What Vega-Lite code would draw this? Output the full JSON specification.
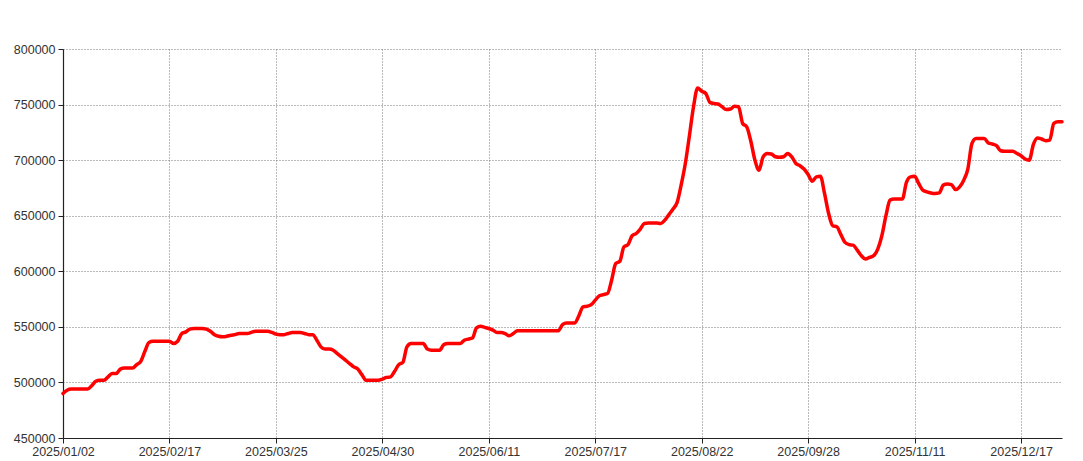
{
"$schema": "https://vega.github.io/schema/vega-lite/v6.json",
"width": 999,
"height": 389,
"autosize": {"type": "none"},
"padding": {"left": 63, "top": 49, "right": 21, "bottom": 23},
"background": "white",
"config": {"view": {"stroke": null}, "font": "Liberation Sans"},
"data": {"values": [
{"d":"2025/01/02","p":490000},{"d":"2025/01/03","p":493000},{"d":"2025/01/06","p":494000},{"d":"2025/01/07","p":494000},{"d":"2025/01/08","p":494000},{"d":"2025/01/09","p":494000},{"d":"2025/01/10","p":494000},{"d":"2025/01/13","p":497000},{"d":"2025/01/14","p":501000},{"d":"2025/01/15","p":502000},{"d":"2025/01/16","p":502000},{"d":"2025/01/17","p":505000},{"d":"2025/01/20","p":508000},{"d":"2025/01/21","p":508000},{"d":"2025/01/22","p":512000},{"d":"2025/01/23","p":513000},{"d":"2025/01/24","p":513000},{"d":"2025/01/27","p":513000},
{"d":"2025/02/05","p":516000},{"d":"2025/02/06","p":519000},{"d":"2025/02/07","p":528000},{"d":"2025/02/10","p":536000},{"d":"2025/02/11","p":537000},{"d":"2025/02/12","p":537000},{"d":"2025/02/13","p":537000},{"d":"2025/02/14","p":537000},{"d":"2025/02/17","p":537000},{"d":"2025/02/18","p":535000},{"d":"2025/02/19","p":537000},{"d":"2025/02/20","p":544000},{"d":"2025/02/21","p":545500},{"d":"2025/02/24","p":548000},{"d":"2025/02/25","p":548500},{"d":"2025/02/26","p":548500},{"d":"2025/02/27","p":548500},{"d":"2025/02/28","p":548000},
{"d":"2025/03/03","p":546000},{"d":"2025/03/04","p":543000},{"d":"2025/03/05","p":541500},{"d":"2025/03/06","p":541000},{"d":"2025/03/07","p":541500},{"d":"2025/03/10","p":542500},{"d":"2025/03/11","p":543000},{"d":"2025/03/12","p":544000},{"d":"2025/03/13","p":544000},{"d":"2025/03/14","p":544000},{"d":"2025/03/17","p":545000},{"d":"2025/03/18","p":546000},{"d":"2025/03/19","p":546000},{"d":"2025/03/20","p":546000},{"d":"2025/03/21","p":546000},{"d":"2025/03/24","p":545000},{"d":"2025/03/25","p":543500},{"d":"2025/03/26","p":543000},{"d":"2025/03/27","p":543000},{"d":"2025/03/28","p":544000},{"d":"2025/03/31","p":545000},
{"d":"2025/04/01","p":545000},{"d":"2025/04/02","p":545000},{"d":"2025/04/03","p":544000},{"d":"2025/04/07","p":543000},{"d":"2025/04/08","p":543000},{"d":"2025/04/09","p":538000},{"d":"2025/04/10","p":532000},{"d":"2025/04/11","p":530000},{"d":"2025/04/14","p":530000},{"d":"2025/04/15","p":529000},{"d":"2025/04/16","p":526000},{"d":"2025/04/17","p":523000},{"d":"2025/04/18","p":520000},{"d":"2025/04/21","p":517000},{"d":"2025/04/22","p":514000},{"d":"2025/04/23","p":512000},{"d":"2025/04/24","p":507000},{"d":"2025/04/25","p":502000},{"d":"2025/04/27","p":502000},{"d":"2025/04/28","p":502000},{"d":"2025/04/29","p":502000},{"d":"2025/04/30","p":503000},
{"d":"2025/05/06","p":504500},{"d":"2025/05/07","p":505000},{"d":"2025/05/08","p":510000},{"d":"2025/05/09","p":516000},{"d":"2025/05/12","p":518000},{"d":"2025/05/13","p":532000},{"d":"2025/05/14","p":535000},{"d":"2025/05/15","p":535000},{"d":"2025/05/16","p":535000},{"d":"2025/05/19","p":535000},{"d":"2025/05/20","p":530000},{"d":"2025/05/21","p":529000},{"d":"2025/05/22","p":529000},{"d":"2025/05/23","p":529000},{"d":"2025/05/26","p":534000},{"d":"2025/05/27","p":535000},{"d":"2025/05/28","p":535000},{"d":"2025/05/29","p":535000},{"d":"2025/05/30","p":535000},
{"d":"2025/06/03","p":538000},{"d":"2025/06/04","p":539000},{"d":"2025/06/05","p":540000},{"d":"2025/06/06","p":549000},{"d":"2025/06/09","p":550500},{"d":"2025/06/10","p":549500},{"d":"2025/06/11","p":548500},{"d":"2025/06/12","p":547000},{"d":"2025/06/13","p":545000},{"d":"2025/06/16","p":545000},{"d":"2025/06/17","p":544000},{"d":"2025/06/18","p":542000},{"d":"2025/06/19","p":544000},{"d":"2025/06/20","p":546500},{"d":"2025/06/23","p":546500},{"d":"2025/06/24","p":546500},{"d":"2025/06/25","p":546500},{"d":"2025/06/26","p":546500},{"d":"2025/06/27","p":546500},{"d":"2025/06/30","p":546500},
{"d":"2025/07/01","p":546500},{"d":"2025/07/02","p":546500},{"d":"2025/07/03","p":546500},{"d":"2025/07/04","p":546500},{"d":"2025/07/07","p":552000},{"d":"2025/07/08","p":553500},{"d":"2025/07/09","p":553500},{"d":"2025/07/10","p":553500},{"d":"2025/07/11","p":560000},{"d":"2025/07/14","p":568000},{"d":"2025/07/15","p":568500},{"d":"2025/07/16","p":570000},{"d":"2025/07/17","p":574000},{"d":"2025/07/18","p":578000},{"d":"2025/07/21","p":579000},{"d":"2025/07/22","p":580000},{"d":"2025/07/23","p":592000},{"d":"2025/07/24","p":607000},{"d":"2025/07/25","p":609000},{"d":"2025/07/28","p":622000},{"d":"2025/07/29","p":624000},{"d":"2025/07/30","p":632000},{"d":"2025/07/31","p":634000},
{"d":"2025/08/01","p":638000},{"d":"2025/08/04","p":643000},{"d":"2025/08/05","p":643500},{"d":"2025/08/06","p":643500},{"d":"2025/08/07","p":643500},{"d":"2025/08/08","p":643000},{"d":"2025/08/11","p":646000},{"d":"2025/08/12","p":651000},{"d":"2025/08/13","p":656000},{"d":"2025/08/14","p":662000},{"d":"2025/08/15","p":678000},{"d":"2025/08/18","p":697000},{"d":"2025/08/19","p":722000},{"d":"2025/08/20","p":748000},{"d":"2025/08/21","p":765000},{"d":"2025/08/22","p":762000},{"d":"2025/08/25","p":760000},{"d":"2025/08/26","p":752000},{"d":"2025/08/27","p":751000},{"d":"2025/08/28","p":750500},{"d":"2025/08/29","p":748000},
{"d":"2025/09/01","p":745500},{"d":"2025/09/02","p":746000},{"d":"2025/09/03","p":748500},{"d":"2025/09/04","p":748000},{"d":"2025/09/05","p":733000},{"d":"2025/09/08","p":730000},{"d":"2025/09/09","p":717000},{"d":"2025/09/10","p":700000},{"d":"2025/09/11","p":691000},{"d":"2025/09/12","p":703000},{"d":"2025/09/15","p":706000},{"d":"2025/09/16","p":705500},{"d":"2025/09/17","p":703000},{"d":"2025/09/18","p":702500},{"d":"2025/09/19","p":703000},{"d":"2025/09/22","p":706000},{"d":"2025/09/23","p":703000},{"d":"2025/09/24","p":697000},{"d":"2025/09/25","p":695000},{"d":"2025/09/26","p":692000},{"d":"2025/09/28","p":687000},{"d":"2025/09/29","p":681000},{"d":"2025/09/30","p":685000},
{"d":"2025/10/09","p":685500},{"d":"2025/10/10","p":670000},{"d":"2025/10/13","p":652000},{"d":"2025/10/14","p":641000},{"d":"2025/10/15","p":640000},{"d":"2025/10/16","p":633000},{"d":"2025/10/17","p":626000},{"d":"2025/10/20","p":624000},{"d":"2025/10/21","p":623500},{"d":"2025/10/22","p":619000},{"d":"2025/10/23","p":614000},{"d":"2025/10/24","p":611000},{"d":"2025/10/27","p":612500},{"d":"2025/10/28","p":614000},{"d":"2025/10/29","p":620000},{"d":"2025/10/30","p":632000},{"d":"2025/10/31","p":650000},
{"d":"2025/11/03","p":664000},{"d":"2025/11/04","p":665000},{"d":"2025/11/05","p":665000},{"d":"2025/11/06","p":665000},{"d":"2025/11/07","p":680000},{"d":"2025/11/10","p":685000},{"d":"2025/11/11","p":685500},{"d":"2025/11/12","p":679000},{"d":"2025/11/13","p":673000},{"d":"2025/11/14","p":671500},{"d":"2025/11/17","p":670500},{"d":"2025/11/18","p":670000},{"d":"2025/11/19","p":670500},{"d":"2025/11/20","p":677500},{"d":"2025/11/21","p":678500},{"d":"2025/11/24","p":678000},{"d":"2025/11/25","p":673500},{"d":"2025/11/26","p":676000},{"d":"2025/11/27","p":682000},{"d":"2025/11/28","p":692000},
{"d":"2025/12/01","p":715000},{"d":"2025/12/02","p":719500},{"d":"2025/12/03","p":719500},{"d":"2025/12/04","p":719500},{"d":"2025/12/05","p":715500},{"d":"2025/12/08","p":714500},{"d":"2025/12/09","p":713000},{"d":"2025/12/10","p":708500},{"d":"2025/12/11","p":708000},{"d":"2025/12/12","p":708000},{"d":"2025/12/15","p":708000},{"d":"2025/12/16","p":706000},{"d":"2025/12/17","p":704000},{"d":"2025/12/18","p":701000},{"d":"2025/12/19","p":700000},{"d":"2025/12/22","p":714000},{"d":"2025/12/23","p":720000},{"d":"2025/12/24","p":719000},{"d":"2025/12/25","p":717500},{"d":"2025/12/26","p":718000},{"d":"2025/12/29","p":733000},{"d":"2025/12/30","p":734500},{"d":"2025/12/31","p":734500}
]},
"mark": {"type": "line", "color": "#ff0000", "strokeWidth": 3.5, "interpolate": "monotone", "strokeJoin": "round", "strokeCap": "round"},
"encoding": {
"x": {"field": "d", "type": "ordinal", "sort": "ascending",
 "scale": {"type": "point", "padding": 0},
 "axis": {"title": null, "values": ["2025/01/02","2025/02/17","2025/03/25","2025/04/30","2025/06/11","2025/07/17","2025/08/22","2025/09/28","2025/11/11","2025/12/17"],
  "labelAngle": 0, "labelFontSize": 12.5, "labelColor": "#333333", "labelPadding": 2, "labelFont": "Liberation Sans",
  "tickSize": 5, "tickColor": "#222222", "domainColor": "#222222", "domainWidth": 1.2,
  "grid": true, "gridColor": "#777777", "gridDash": [1, 2], "gridWidth": 1}},
"y": {"field": "p", "type": "quantitative",
 "scale": {"domain": [450000, 800000], "nice": false, "zero": false},
 "axis": {"title": null, "values": [450000,500000,550000,600000,650000,700000,750000,800000], "format": "d",
  "labelFontSize": 12.5, "labelColor": "#333333", "labelPadding": 3, "labelFont": "Liberation Sans",
  "tickSize": 5, "tickColor": "#222222", "domainColor": "#222222", "domainWidth": 1.2,
  "grid": true, "gridColor": "#777777", "gridDash": [1, 2], "gridWidth": 1}}
}
}
